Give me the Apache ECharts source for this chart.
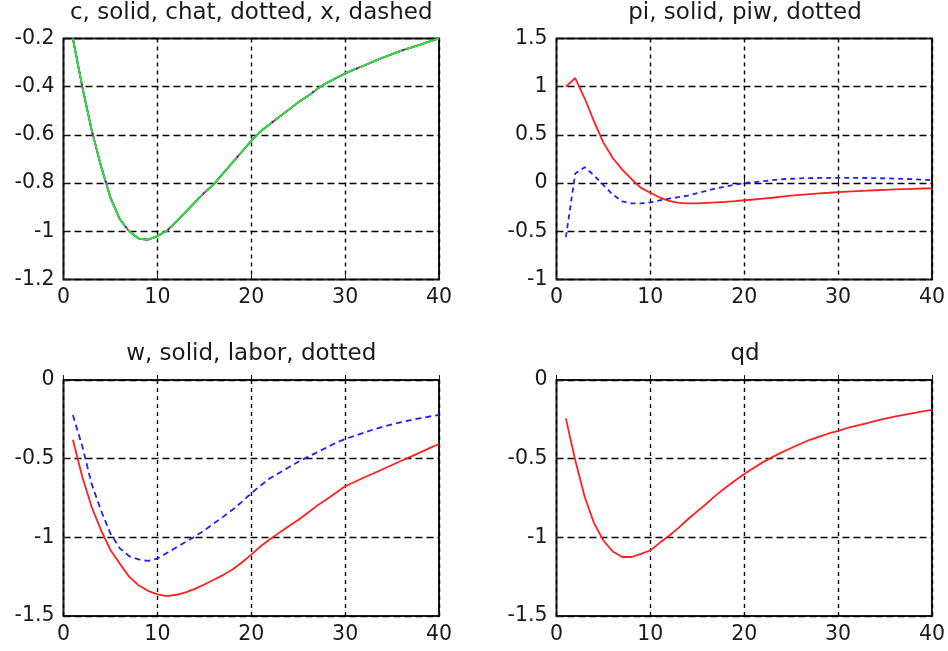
<!DOCTYPE html>
<html>
<head>
<meta charset="utf-8">
<script src="https://cdn.jsdelivr.net/npm/echarts@6/dist/echarts.min.js"></script>
<style>html,body{margin:0;padding:0;background:#fff;}#chart{width:948px;height:651px;}</style>
</head>
<body>
<div id="chart"></div>
<script>
// ---- data (x = 1..40) ----
const periods = Array.from({length: 40}, (_, i) => i + 1);

const cVals = [-0.20,-0.40,-0.58,-0.73,-0.86,-0.95,-1.00,-1.03,-1.035,-1.02,
  -0.998,-0.96,-0.92,-0.88,-0.84,-0.805,-0.76,-0.715,-0.67,-0.625,
  -0.585,-0.555,-0.525,-0.495,-0.465,-0.44,-0.41,-0.385,-0.365,-0.345,
  -0.328,-0.312,-0.296,-0.28,-0.265,-0.25,-0.238,-0.225,-0.212,-0.20];
const chatVals = [-0.20,-0.40,-0.58,-0.73,-0.86,-0.95,-1.00,-1.03,-1.035,-1.02,
  -0.998,-0.96,-0.92,-0.88,-0.84,-0.805,-0.76,-0.715,-0.67,-0.625,
  -0.585,-0.555,-0.525,-0.495,-0.465,-0.44,-0.41,-0.385,-0.365,-0.345,
  -0.328,-0.312,-0.296,-0.28,-0.265,-0.25,-0.238,-0.225,-0.212,-0.20];
const xVals = [-0.20,-0.40,-0.58,-0.73,-0.86,-0.95,-1.00,-1.03,-1.035,-1.02,
  -0.998,-0.96,-0.92,-0.88,-0.84,-0.805,-0.76,-0.715,-0.67,-0.625,
  -0.585,-0.555,-0.525,-0.495,-0.465,-0.44,-0.41,-0.385,-0.365,-0.345,
  -0.328,-0.312,-0.296,-0.28,-0.265,-0.25,-0.238,-0.225,-0.212,-0.20];

const piVals = [1.00,1.09,0.88,0.64,0.42,0.26,0.14,0.04,-0.05,-0.10,
  -0.15,-0.185,-0.205,-0.21,-0.21,-0.205,-0.20,-0.195,-0.188,-0.178,
  -0.17,-0.16,-0.152,-0.14,-0.13,-0.122,-0.114,-0.106,-0.10,-0.093,
  -0.088,-0.083,-0.078,-0.074,-0.07,-0.066,-0.062,-0.059,-0.056,-0.054];
const piwVals = [-0.56,0.10,0.165,0.08,-0.02,-0.12,-0.19,-0.21,-0.21,-0.20,
  -0.18,-0.16,-0.145,-0.13,-0.105,-0.08,-0.055,-0.035,-0.015,0.0,
  0.01,0.02,0.03,0.04,0.045,0.05,0.052,0.054,0.055,0.055,
  0.055,0.054,0.053,0.051,0.05,0.047,0.044,0.04,0.035,0.03];

const wVals = [-0.38,-0.615,-0.806,-0.955,-1.08,-1.167,-1.25,-1.305,-1.34,-1.362,
  -1.373,-1.365,-1.35,-1.328,-1.30,-1.27,-1.24,-1.205,-1.16,-1.11,
  -1.057,-1.012,-0.97,-0.93,-0.89,-0.845,-0.80,-0.76,-0.718,-0.675,
  -0.648,-0.62,-0.594,-0.567,-0.54,-0.513,-0.487,-0.46,-0.433,-0.407];
const laborVals = [-0.223,-0.42,-0.66,-0.83,-0.976,-1.07,-1.12,-1.14,-1.15,-1.135,
  -1.10,-1.065,-1.03,-0.995,-0.955,-0.912,-0.87,-0.825,-0.775,-0.72,
  -0.67,-0.625,-0.59,-0.555,-0.52,-0.49,-0.46,-0.43,-0.40,-0.375,
  -0.355,-0.335,-0.315,-0.298,-0.282,-0.268,-0.255,-0.243,-0.232,-0.222];

const qdVals = [-0.244,-0.51,-0.742,-0.91,-1.02,-1.09,-1.125,-1.125,-1.105,-1.082,
  -1.035,-0.99,-0.94,-0.885,-0.835,-0.785,-0.732,-0.685,-0.64,-0.598,
  -0.56,-0.522,-0.49,-0.46,-0.432,-0.405,-0.38,-0.36,-0.34,-0.324,
  -0.305,-0.29,-0.275,-0.26,-0.245,-0.233,-0.222,-0.21,-0.20,-0.19];

const panelTitles = ['c, solid, chat, dotted, x, dashed', 'pi, solid, piw, dotted', 'w, solid, labor, dotted', 'qd'];
const xTicks = [0, 10, 20, 30, 40];
const yRanges = [[-1.2, -0.2, 0.2], [-1, 1.5, 0.5], [-1.5, 0, 0.5], [-1.5, 0, 0.5]];

// ---- layout ----
const FONT = 'DejaVu Sans';
const grids = [
  {left: 63.5, top: 38.5, width: 375.5, height: 241},
  {left: 556.5, top: 38.5, width: 377, height: 241},
  {left: 63.5, top: 380, width: 375.5, height: 236},
  {left: 556.5, top: 380, width: 377, height: 236}
];
const titleTops = [2, 2, 343, 343];

const pairs = vals => periods.map((p, i) => [p, vals[i]]);

const option = {
  animation: false,
  backgroundColor: '#ffffff',
  title: panelTitles.map((t, i) => ({
    text: t,
    left: grids[i].left + grids[i].width / 2,
    top: titleTops[i],
    textAlign: 'center',
    padding: 0,
    textStyle: {fontFamily: FONT, fontSize: 23, fontWeight: 'normal', color: '#1a1a1a'}
  })),
  grid: grids.map(g => Object.assign({show: true, borderColor: '#1a1a1a', borderWidth: 2, backgroundColor: 'transparent'}, g)),
  xAxis: grids.map((g, i) => ({
    type: 'value', gridIndex: i, min: xTicks[0], max: xTicks[xTicks.length - 1], interval: 10,
    axisLine: {show: false},
    axisTick: {show: true, inside: true, length: 5, lineStyle: {color: '#1a1a1a'}},
    axisLabel: {fontFamily: FONT, fontSize: 20.5, color: '#1a1a1a', margin: 8},
    splitLine: {show: true, lineStyle: {color: '#000', width: 1.4, type: [4, 4]}}
  })),
  yAxis: yRanges.map((r, i) => ({
    type: 'value', gridIndex: i, min: r[0], max: r[1], interval: r[2],
    axisLine: {show: false},
    axisTick: {show: true, inside: true, length: 5, lineStyle: {color: '#1a1a1a'}},
    axisLabel: {fontFamily: FONT, fontSize: 20.5, color: '#1a1a1a', margin: 9},
    splitLine: {show: true, lineStyle: {color: '#000', width: 1.4, type: [7, 4]}}
  })),
  series: [
    {name: 'c', type: 'line', xAxisIndex: 0, yAxisIndex: 0, data: pairs(cVals), showSymbol: false,
      lineStyle: {color: '#ff2020', width: 1.8}},
    {name: 'chat', type: 'line', xAxisIndex: 0, yAxisIndex: 0, data: pairs(chatVals), showSymbol: false,
      lineStyle: {color: '#2020ff', width: 1.8, type: [48, 2]}},
    {name: 'x', type: 'line', xAxisIndex: 0, yAxisIndex: 0, data: pairs(xVals), showSymbol: false,
      lineStyle: {color: '#22ee22', width: 1.8, type: [46, 4]}},
    {name: 'pi', type: 'line', xAxisIndex: 1, yAxisIndex: 1, data: pairs(piVals), showSymbol: false,
      lineStyle: {color: '#ff2020', width: 1.8}},
    {name: 'piw', type: 'line', xAxisIndex: 1, yAxisIndex: 1, data: pairs(piwVals), showSymbol: false,
      lineStyle: {color: '#2020ff', width: 1.8, type: [5, 4]}},
    {name: 'w', type: 'line', xAxisIndex: 2, yAxisIndex: 2, data: pairs(wVals), showSymbol: false,
      lineStyle: {color: '#ff2020', width: 1.8}},
    {name: 'labor', type: 'line', xAxisIndex: 2, yAxisIndex: 2, data: pairs(laborVals), showSymbol: false,
      lineStyle: {color: '#2020ff', width: 1.8, type: [6, 4]}},
    {name: 'qd', type: 'line', xAxisIndex: 3, yAxisIndex: 3, data: pairs(qdVals), showSymbol: false,
      lineStyle: {color: '#ff2020', width: 1.8}}
  ]
};

const chart = echarts.init(document.getElementById('chart'), null, {renderer: 'canvas'});
chart.setOption(option);
</script>
</body>
</html>
